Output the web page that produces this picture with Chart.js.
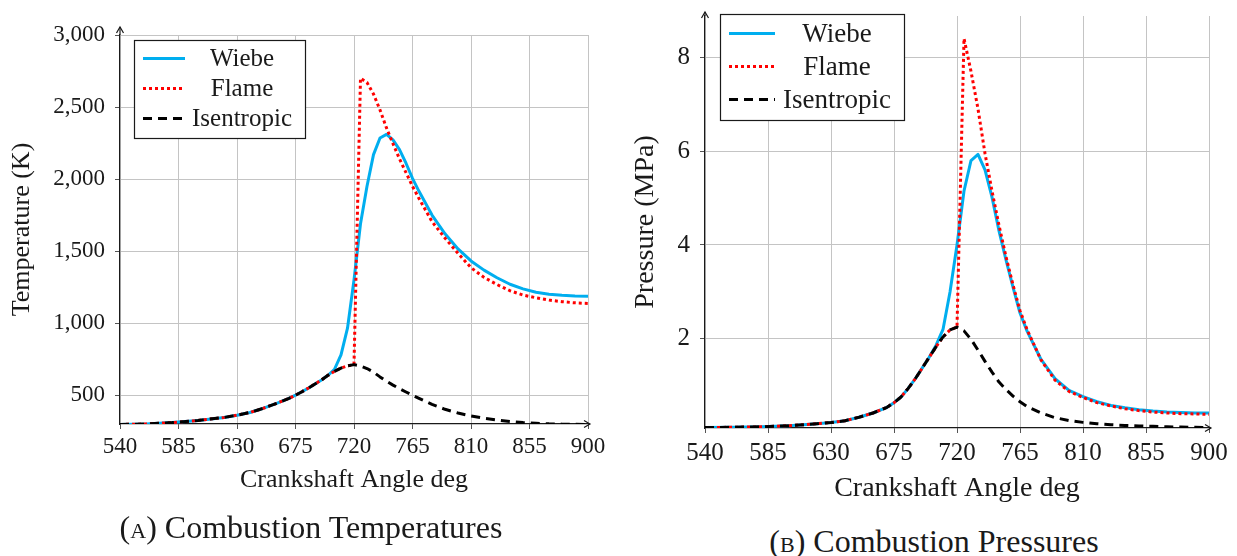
<!DOCTYPE html>
<html>
<head>
<meta charset="utf-8">
<script src="https://cdn.jsdelivr.net/npm/chart.js@4.4.1/dist/chart.umd.min.js"></script>
<style>
  html, body { margin: 0; padding: 0; background: #fff; }
  body { width: 1237px; height: 556px; position: relative; overflow: hidden;
         font-family: "Liberation Serif", "Times New Roman", serif; color: #1a1a1a; }
  canvas { position: absolute; top: 0; }
  .cap { position: absolute; font-size: 32px; white-space: nowrap; transform: translateX(-50%); line-height: 1; }
  .sc { font-variant: small-caps; }
</style>
</head>
<body>
<canvas id="tempChart" width="610" height="510" style="left:0"></canvas>
<canvas id="presChart" width="617" height="510" style="left:620px"></canvas>
<div class="cap" style="left:311px;top:511px">(<span class="sc">a</span>) Combustion Temperatures</div>
<div class="cap" style="left:934px;top:525px">(<span class="sc">b</span>) Combustion Pressures</div>

<script>
// crank angle samples (deg)
const angles = [540, 560, 580, 600, 620, 630, 640, 650, 660, 670, 675, 680, 685, 690, 695, 700, 705, 710, 715, 720, 725, 730, 735, 740, 745, 750, 755, 760, 765, 770, 780, 790, 800, 810, 820, 830, 840, 850, 860, 870, 880, 890, 900];

// temperature (K)
const tempWiebe      = [297, 300, 310, 325, 345, 361, 380, 408, 442, 478, 500, 524, 550, 578, 606, 638, 680, 780, 965, 1300, 1690, 1950, 2170, 2285, 2310, 2272, 2205, 2110, 2005, 1915, 1750, 1620, 1515, 1432, 1368, 1315, 1270, 1238, 1215, 1201, 1193, 1189, 1187];
const tempFlame      = [297, 300, 310, 325, 345, 361, 380, 408, 442, 478, 500, 524, 550, 578, 606, 638, 665, 688, 704, 712, 2700, 2670, 2590, 2480, 2355, 2245, 2140, 2045, 1950, 1865, 1705, 1590, 1485, 1385, 1318, 1268, 1225, 1195, 1176, 1160, 1149, 1141, 1137];
const tempIsentropic = [297, 300, 310, 325, 345, 361, 380, 408, 442, 478, 500, 524, 550, 578, 606, 638, 665, 688, 704, 712, 703, 685, 660, 627, 597, 570, 545, 522, 500, 478, 436, 402, 376, 356, 340, 328, 318, 310, 305, 301, 299, 298, 297];

// pressure (MPa)
const presWiebe      = [0.11, 0.115, 0.125, 0.15, 0.19, 0.215, 0.255, 0.33, 0.42, 0.54, 0.64, 0.76, 0.94, 1.14, 1.37, 1.60, 1.86, 2.20, 3.00, 4.00, 5.15, 5.80, 5.93, 5.60, 5.02, 4.30, 3.68, 3.10, 2.55, 2.17, 1.56, 1.15, 0.90, 0.77, 0.66, 0.58, 0.53, 0.49, 0.46, 0.44, 0.43, 0.42, 0.42];
const presFlame      = [0.11, 0.115, 0.125, 0.15, 0.19, 0.215, 0.255, 0.33, 0.42, 0.54, 0.64, 0.76, 0.94, 1.14, 1.37, 1.60, 1.83, 2.04, 2.19, 2.25, 8.40, 7.70, 6.90, 5.95, 5.15, 4.42, 3.75, 3.15, 2.60, 2.20, 1.55, 1.12, 0.88, 0.75, 0.64, 0.57, 0.51, 0.47, 0.44, 0.42, 0.405, 0.40, 0.39];
const presIsentropic = [0.11, 0.115, 0.125, 0.15, 0.19, 0.215, 0.255, 0.33, 0.42, 0.54, 0.64, 0.76, 0.94, 1.14, 1.37, 1.60, 1.83, 2.04, 2.19, 2.25, 2.17, 1.99, 1.76, 1.52, 1.29, 1.08, 0.92, 0.78, 0.66, 0.56, 0.42, 0.32, 0.26, 0.22, 0.19, 0.17, 0.155, 0.145, 0.135, 0.125, 0.12, 0.115, 0.11];

const seriesNames = ['Wiebe', 'Flame', 'Isentropic'];
const angleTicks = [540, 585, 630, 675, 720, 765, 810, 855, 900];
const tempTicks = [500, 1000, 1500, 2000, 2500, 3000];
const presTicks = [2, 4, 6, 8];

const FONT = '"Liberation Serif", "Times New Roman", serif';
const INK = '#1a1a1a';
const GRID = '#c4c4c4';

const LINE_STYLES = [
  { color: '#00AEEF', dash: [],     order: 3 },
  { color: '#FF0000', dash: [3, 3], order: 2 },
  { color: '#000000', dash: [9, 6], order: 1 }
];

function arrowHead(ctx, x, y, dir){
  ctx.beginPath();
  if (dir === 'up'){
    ctx.moveTo(x - 3.5, y + 6); ctx.lineTo(x, y); ctx.lineTo(x + 3.5, y + 6);
  } else {
    ctx.moveTo(x - 6, y - 3.5); ctx.lineTo(x, y); ctx.lineTo(x - 6, y + 3.5);
  }
  ctx.stroke();
}

// axis arrows + boxed legend drawn inside the plot
const axisDecor = {
  id: 'axisDecor',
  afterDraw(chart, args, o){
    const { ctx, chartArea: a } = chart;
    ctx.save();
    ctx.strokeStyle = INK;
    ctx.lineWidth = 1.2;
    ctx.beginPath();
    ctx.moveTo(a.left, a.top); ctx.lineTo(a.left, a.top - o.yExt);
    ctx.moveTo(a.right, a.bottom); ctx.lineTo(a.right + o.xExt, a.bottom);
    ctx.stroke();
    arrowHead(ctx, a.left, a.top - o.yExt, 'up');
    arrowHead(ctx, a.right + o.xExt, a.bottom, 'right');

    const L = o.legend;
    const bx = a.left + L.box[0], by = a.top + L.box[1];
    ctx.fillStyle = '#fff';
    ctx.fillRect(bx, by, L.box[2], L.box[3]);
    ctx.strokeStyle = INK;
    ctx.lineWidth = 1.2;
    ctx.strokeRect(bx, by, L.box[2], L.box[3]);

    chart.data.datasets.forEach((ds, i) => {
      const y = a.top + L.rows[i];
      ctx.setLineDash(ds.borderDash || []);
      ctx.strokeStyle = ds.borderColor;
      ctx.lineWidth = ds.borderWidth;
      ctx.lineCap = 'butt';
      ctx.beginPath();
      ctx.moveTo(a.left + L.line[0], y);
      ctx.lineTo(a.left + L.line[1], y);
      ctx.stroke();
      ctx.setLineDash([]);
      ctx.fillStyle = INK;
      ctx.font = `${L.size}px ${FONT}`;
      ctx.textAlign = 'center';
      ctx.textBaseline = 'middle';
      ctx.fillText(ds.label, a.left + L.textX, y + 1);
    });
    ctx.restore();
  }
};

function makeChart(canvas, cfg){
  const datasets = cfg.series.map((vals, i) => ({
    label: seriesNames[i],
    data: angles.map((a, k) => ({ x: a, y: vals[k] })),
    borderColor: LINE_STYLES[i].color,
    borderDash: LINE_STYLES[i].dash,
    order: LINE_STYLES[i].order,
    borderWidth: 3,
    borderCapStyle: 'butt',
    borderJoinStyle: 'round',
    pointRadius: 0,
    tension: 0,
    fill: false
  }));

  return new Chart(canvas, {
    type: 'line',
    data: { datasets },
    options: {
      responsive: false,
      animation: false,
      devicePixelRatio: 1,
      layout: { padding: { top: cfg.area.top, right: canvas.width - cfg.area.right, left: 0, bottom: 0 } },
      plugins: {
        legend: { display: false },
        tooltip: { enabled: false },
        axisDecor: cfg.decor
      },
      scales: {
        x: {
          type: 'linear', min: 540, max: 900,
          afterBuildTicks: s => { s.ticks = angleTicks.map(v => ({ value: v })); },
          afterFit: s => { s.height = canvas.height - cfg.area.bottom; s.paddingLeft = 0; s.paddingRight = 0; },
          ticks: { font: { family: FONT, size: cfg.tickSize }, color: INK, padding: cfg.xTickPad,
                   maxRotation: 0, autoSkip: false, callback: v => String(v) },
          grid: { color: GRID, tickLength: 5, tickColor: '#555' },
          border: { color: INK, width: 1.2 },
          title: { display: true, text: 'Crankshaft Angle deg', color: INK,
                   font: { family: FONT, size: cfg.titleSize }, padding: { top: 0, bottom: cfg.xTitlePad } }
        },
        y: {
          type: 'linear', min: cfg.yMin, max: cfg.yMax,
          afterBuildTicks: s => { s.ticks = cfg.yTicks.map(v => ({ value: v })); },
          afterFit: s => { s.width = cfg.area.left; s.paddingTop = 0; s.paddingBottom = 0; },
          ticks: { font: { family: FONT, size: cfg.tickSize }, color: INK, padding: 10,
                   callback: v => v.toLocaleString('en-US') },
          grid: { color: GRID, tickLength: 5, tickColor: '#555' },
          border: { color: INK, width: 1.2 },
          title: { display: true, text: cfg.yTitle, color: INK,
                   font: { family: FONT, size: cfg.titleSize }, padding: { top: cfg.yTitlePad, bottom: 0 } }
        }
      }
    },
    plugins: [axisDecor]
  });
}

makeChart(document.getElementById('tempChart'), {
  series: [tempWiebe, tempFlame, tempIsentropic],
  yMin: 300, yMax: 3000, yTicks: tempTicks, yTitle: 'Temperature (K)',
  area: { left: 120, right: 588, top: 35, bottom: 424 },
  tickSize: 23, titleSize: 26, xTickPad: 4, xTitlePad: 14, yTitlePad: 7,
  decor: {
    yExt: 8, xExt: 2,
    legend: { box: [14.5, 5.5, 171, 98], line: [23, 65], textX: 122, rows: [23.5, 53.5, 83.5], size: 25 }
  }
});

makeChart(document.getElementById('presChart'), {
  series: [presWiebe, presFlame, presIsentropic],
  yMin: 0.1, yMax: 8.88, yTicks: presTicks, yTitle: 'Pressure (MPa)',
  area: { left: 85, right: 589, top: 16, bottom: 428 },
  tickSize: 25, titleSize: 28, xTickPad: 5, xTitlePad: 5, yTitlePad: 9,
  decor: {
    yExt: 4, xExt: 2,
    legend: { box: [15.5, -1.5, 184, 106], line: [24, 70], textX: 132, rows: [17.5, 50.5, 83.5], size: 27 }
  }
});
</script>
</body>
</html>
